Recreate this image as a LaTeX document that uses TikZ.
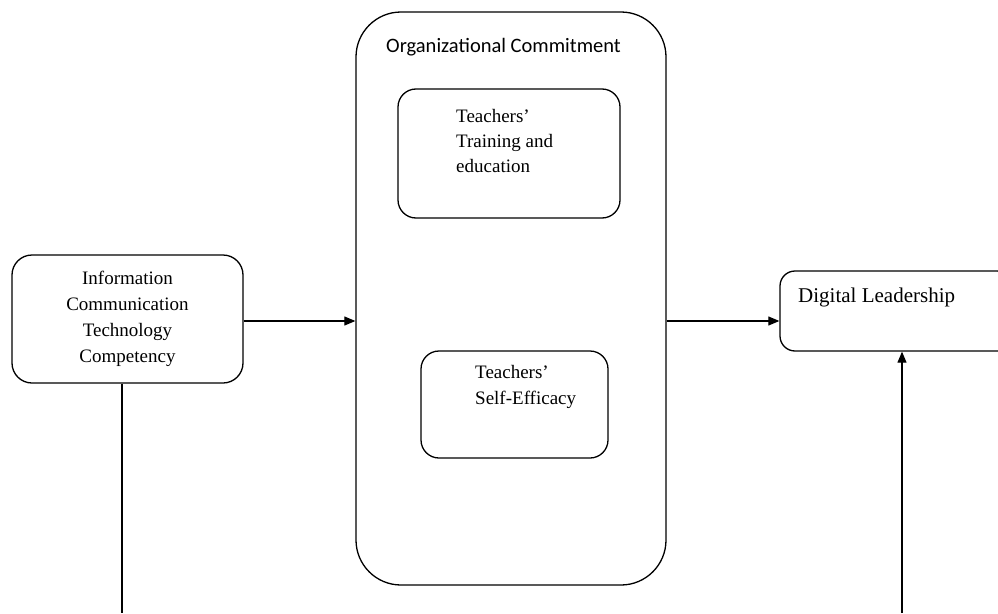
\documentclass[tikz,border=0pt]{standalone}
\usepackage{fontspec}
\setmainfont{Liberation Serif}
\newfontfamily\calibri{Carlito}
\usetikzlibrary{arrows.meta}

\tikzset{
  box/.style={draw, line width=1.3pt, rounded corners=#1, inner sep=0pt},
  link/.style={line width=1.1pt},
  arr/.style={link, -{Triangle[length=11pt,width=9pt]}}
}

\begin{document}
\begin{tikzpicture}[x=1pt,y=-1pt]
      \useasboundingbox (0,0) rectangle (998,613);
      \node[box=20pt, minimum width=231pt, minimum height=128pt, align=center,
            font=\fontsize{19}{26}\selectfont] (ict) at (127.5,319)
            {Information\\Communication\\Technology\\Competency};
      \node[box=45pt, minimum width=310pt, minimum height=573pt] (oc) at (511,298.5) {};
      \node[box=18pt, minimum width=222pt, minimum height=129pt] (tte) at (509,153.5) {};
      \node[box=18pt, minimum width=187pt, minimum height=107pt] (tse) at (514.5,404.5) {};
      \node[box=15pt, minimum width=232pt, minimum height=80pt] (dl) at (896,311) {};
      \node[anchor=west, inner sep=0pt, font=\calibri\fontsize{20.5}{24}\selectfont] (octext) at (386,47) {Organizational Commitment};
      \node[anchor=west, inner sep=0pt, align=left, font=\fontsize{19}{25}\selectfont] (ttetext) at (456,141) {Teachers’\\Training and\\education};
      \node[anchor=west, inner sep=0pt, align=left, font=\fontsize{19}{26}\selectfont] (tsetext) at (475,387) {Teachers’\\Self-Efficacy};
      \node[anchor=west, inner sep=0pt, font=\fontsize{21}{24}\selectfont] (dltext) at (798,297) {Digital Leadership};
      \coordinate (bl) at (122,613);
      \coordinate (br) at (902,613);
      \draw[arr] (ict.east |- 0,321) -- (oc.west |- 0,321);
      \draw[arr] (oc.east |- 0,321) -- (dl.west |- 0,321);
      \draw[link] (ict.south -| bl) -- (bl);
      \draw[arr] (br) -- (br |- dl.south);
    \end{tikzpicture}
\end{document}
